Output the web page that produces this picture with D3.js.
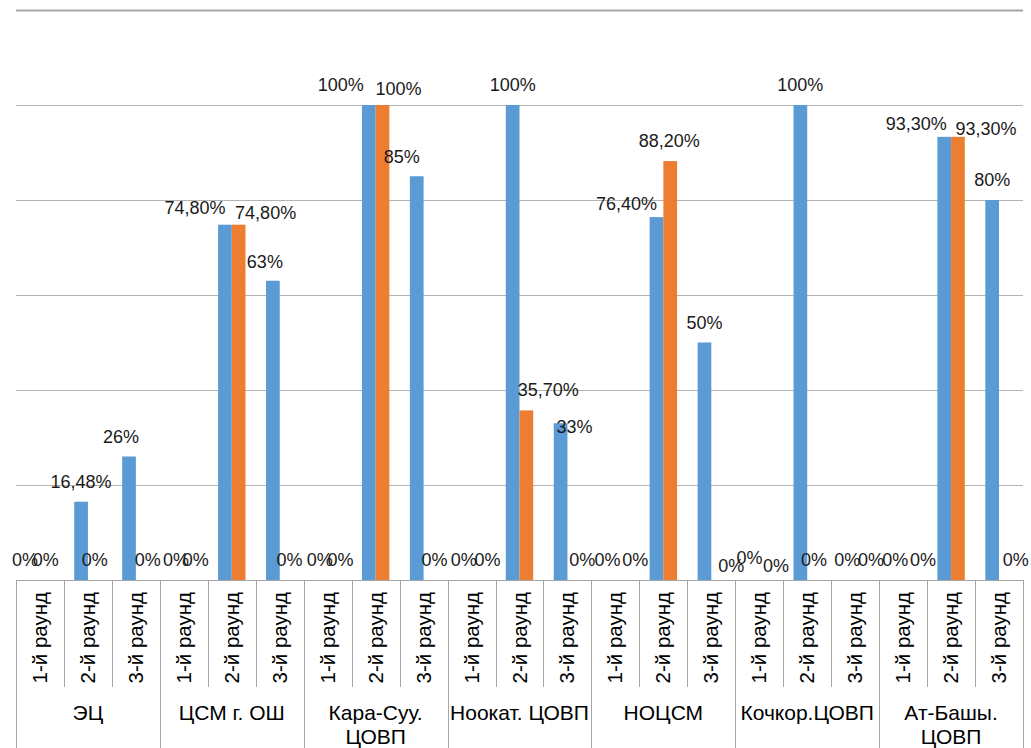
<!DOCTYPE html>
<html>
<head>
<meta charset="utf-8">
<script src="https://cdn.jsdelivr.net/npm/d3@7"></script>
<style>
  html, body { margin: 0; padding: 0; background: #fff; }
  svg { display: block; font-family: "Liberation Sans", Arial, sans-serif; }
</style>
</head>
<body>
<svg id="chart" width="1031" height="748"></svg>
<script>
// Categories: organisations, each with three proficiency-testing rounds
const groups = ["ЭЦ", "ЦСМ г. ОШ", "Кара-Суу. ЦОВП", "Ноокат. ЦОВП", "НОЦСМ", "Кочкор.ЦОВП", "Ат-Башы. ЦОВП"];
const rounds = ["1-й раунд", "2-й раунд", "3-й раунд"];

// Series values (share, 1 = 100%), one entry per group × round
const seriesA = [0, 0.1648, 0.26,  0, 0.748, 0.63,  0, 1, 0.85,  0, 1, 0.33,  0, 0.764, 0.50,  0, 1, 0,  0, 0.933, 0.80];
const seriesB = [0, 0, 0,          0, 0.748, 0,     0, 1, 0,     0, 0.357, 0,  0, 0.882, 0,     0, 0, 0,  0, 0.933, 0];

// Gridline values
const gridTicks = [0.2, 0.4, 0.6, 0.8, 1.0, 1.2];

// Hand-placed label offsets (px) so neighbouring labels do not collide
const nudgeA = [[-8,0],[0,0],[-8,0], [-1,0],[-30,3],[-8,1], [-1,0],[-28,0],[-15,1], [-1,0],[0,0],[14,24], [-1,0],[-30,7],[0,0], [-3,-2],[0,0],[-1,0], [-1,0],[-28,7],[0,0]];
const nudgeB = [[-1,0],[0,0],[5,0], [5,0],[27,8],[3,0], [6,0],[16,4],[4,0], [9,0],[22,0],[8,0], [13,0],[-1,0],[13,6], [10,6],[0,0],[9,0], [13,0],[28,12],[10,0]];

const colors = { A: "#5b9bd5", B: "#ed7d31" };

const svg = d3.select("#chart");
const plotLeft = 16, plotRight = 1023, plotTop = 10, base = 580;
const tickBottom = 687, tableBottom = 748;

// One slot per group × round
const slots = [];
groups.forEach((g, gi) => rounds.forEach((r, ri) => slots.push({ key: gi + "|" + ri, g, gi, r, ri })));

const x = d3.scaleBand().domain(slots.map(d => d.key)).range([plotLeft, plotRight]).padding(0);
const xs = d3.scaleBand().domain(["A", "B"]).range([0, x.bandwidth()]).paddingInner(0).paddingOuter(0.75);
const y = d3.scaleLinear().domain([0, 1.2]).range([base, plotTop]);

// Gridlines
svg.append("g").selectAll("line").data(gridTicks).join("line")
  .attr("x1", plotLeft).attr("x2", plotRight)
  .attr("y1", d => Math.round(y(d)) + 0.5).attr("y2", d => Math.round(y(d)) + 0.5)
  .attr("stroke", d => d === 1.2 ? "#a6a6a6" : "#b3b3b3")
  .attr("stroke-width", d => d === 1.2 ? 2 : 1);

// Bars
const rows = [];
slots.forEach((s, i) => {
  rows.push({ s, i, ser: "A", v: seriesA[i], n: nudgeA[i] });
  rows.push({ s, i, ser: "B", v: seriesB[i], n: nudgeB[i] });
});

svg.append("g").selectAll("rect").data(rows.filter(d => d.v > 0)).join("rect")
  .attr("x", d => x(d.s.key) + xs(d.ser))
  .attr("width", xs.bandwidth())
  .attr("y", d => y(d.v))
  .attr("height", d => base - y(d.v))
  .attr("fill", d => colors[d.ser]);

// Value labels
const fmt = v => {
  const p = Math.round(v * 10000) / 100;
  return (Number.isInteger(p) ? String(p) : p.toFixed(2).replace(".", ",")) + "%";
};
svg.append("g").selectAll("text").data(rows).join("text")
  .attr("x", d => x(d.s.key) + xs(d.ser) + xs.bandwidth() / 2 + d.n[0])
  .attr("y", d => y(d.v) - 20.5 + 6.5 + d.n[1])
  .attr("text-anchor", "middle")
  .attr("font-size", 18)
  .attr("fill", "#1a1a1a")
  .text(d => fmt(d.v));

// Category axis: baseline and table-style separators
const axis = svg.append("g").attr("stroke", "#a6a6a6").attr("stroke-width", 1);
axis.append("line").attr("x1", plotLeft).attr("x2", plotRight).attr("y1", base + 0.5).attr("y2", base + 0.5);
const bounds = slots.map(s => x(s.key)).concat([plotRight]);
bounds.forEach((bx, i) => {
  const isGroup = i % rounds.length === 0;
  const px = Math.round(bx) + 0.5;
  axis.append("line").attr("x1", px).attr("x2", px)
    .attr("y1", base).attr("y2", isGroup ? tableBottom : tickBottom);
});

// Round labels (rotated)
svg.append("g").selectAll("text").data(slots).join("text")
  .attr("transform", d => `translate(${x(d.key) + x.bandwidth() / 2 + 7},592) rotate(-90)`)
  .attr("text-anchor", "end")
  .attr("font-size", 20.5)
  .attr("fill", "#000")
  .text(d => d.r);

// Group labels, wrapped when wider than the group cell
const gw = x.bandwidth() * rounds.length;
const gLabels = svg.append("g").selectAll("text").data(groups).join("text")
  .attr("x", (d, i) => plotLeft + gw * i + gw / 2)
  .attr("y", 720)
  .attr("text-anchor", "middle")
  .attr("font-size", 21)
  .attr("fill", "#000")
  .text(d => d);
gLabels.each(function (d) {
  const t = d3.select(this);
  if (this.getComputedTextLength() > gw - 1) {
    const words = d.split(" ");
    const cx = t.attr("x");
    t.text(null);
    t.append("tspan").attr("x", cx).attr("dy", 0).text(words.slice(0, -1).join(" "));
    t.append("tspan").attr("x", cx).attr("dy", 24).text(words[words.length - 1]);
  }
});
</script>
</body>
</html>
